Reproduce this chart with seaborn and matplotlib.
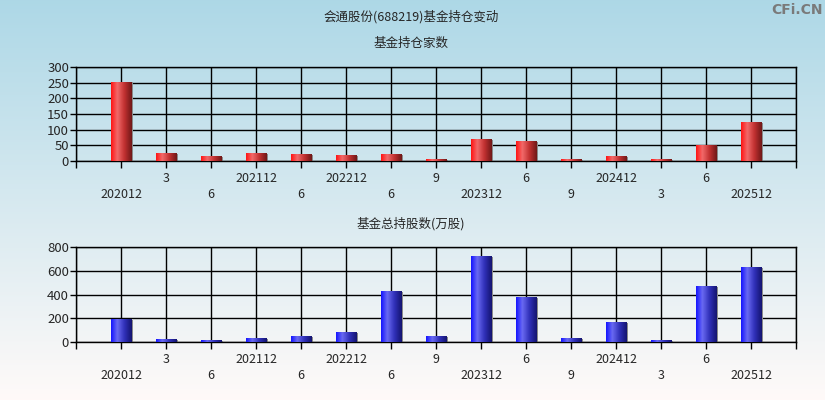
import numpy as np
import pandas as pd
import matplotlib
matplotlib.use("Agg")
import matplotlib.pyplot as plt
from matplotlib.colors import LinearSegmentedColormap
from matplotlib.patches import Rectangle
import seaborn as sns

# ---- data ----
periods = ["202012", "202103", "202106", "202112", "202206", "202212", "202306", "202309",
           "202312", "202406", "202409", "202412", "202503", "202506", "202512"]
tick_labels = ["202012", "3", "6", "202112", "6", "202212", "6", "9",
               "202312", "6", "9", "202412", "3", "6", "202512"]
fund_count = [252, 23, 14, 23, 20, 17, 20, 4, 68, 61, 4, 14, 4, 49, 122]
fund_shares = [188, 19, 11, 28, 45, 78, 424, 45, 718, 373, 28, 163, 11, 466, 626]

main_title = "会通股份(688219)基金持仓变动"
sub_title1 = "基金持仓家数"
sub_title2 = "基金总持股数(万股)"

sns.set_theme(style="white")
plt.rcParams['font.family'] = ['Noto Sans CJK SC', 'DejaVu Sans']
plt.rcParams['axes.unicode_minus'] = False

fig = plt.figure(figsize=(8.25, 4.0), dpi=100)

# background gradient
bg = fig.add_axes([0, 0, 1, 1], zorder=-10)
top_c = np.array([0.68, 0.847, 0.905])
bot_c = np.array([1.0, 0.98, 0.975])
t = np.linspace(0, 1, 256)[:, None]
grad = top_c[None, :] * (1 - t) + bot_c[None, :] * t
bg.imshow(grad[:, None, :].repeat(2, axis=1), aspect="auto", extent=[0, 1, 0, 1])
bg.set_axis_off()

red_cmap = LinearSegmentedColormap.from_list(
    "r", [(0, "#ff1414"), (0.3, "#f26a6a"), (0.65, "#c03030"), (1, "#701818")])
blue_cmap = LinearSegmentedColormap.from_list(
    "b", [(0, "#1414ff"), (0.3, "#6a6af2"), (0.65, "#3030b8"), (1, "#141470")])

df = pd.DataFrame({"period": periods, "count": fund_count, "shares": fund_shares})

def panel(rect, col, cmap, ylim, yticks, subtitle, sub_y):
    ax = fig.add_axes(rect)
    ax.set_facecolor("none")
    sns.barplot(data=df, x="period", y=col, order=periods, color="red",
                width=0.45, ax=ax, zorder=3)
    gx = np.linspace(0, 1, 64)[None, :]
    for p in list(ax.patches):
        x0, y0 = p.get_x(), p.get_y()
        w, h = p.get_width(), p.get_height()
        # shadow
        ax.add_patch(Rectangle((x0 + w, y0), 0.04, h, facecolor="#8a8a8a",
                               edgecolor="none", zorder=2.5))
        ax.imshow(gx, cmap=cmap, aspect="auto", extent=[x0, x0 + w, y0, y0 + h],
                  zorder=3.5, interpolation="bilinear")
        p.set_visible(False)
    ax.set_xlim(-1, len(periods))
    ax.set_ylim(*ylim)
    ax.set_yticks(yticks)
    ax.set_xticks(np.arange(-1, len(periods) + 1))
    labs = [""] + [("" if i % 2 else "\n") + s for i, s in enumerate(tick_labels)] + [""]
    ax.set_xticklabels(labs, fontsize=9, linespacing=1.25)
    ax.tick_params(axis="y", labelsize=9.5, length=4, width=1, color="black", pad=1)
    ax.tick_params(axis="x", length=5, width=1, color="black", pad=3)
    ax.tick_params(bottom=True, left=True)
    ax.grid(True, color="black", linewidth=1, zorder=1)
    ax.set_axisbelow(True)
    for s in ax.spines.values():
        s.set_color("black")
        s.set_linewidth(1)
    ax.set_xlabel("")
    ax.set_ylabel("")
    ax.margins(x=0)
    fig.text(411 / 825, sub_y, subtitle, ha="center", va="center", fontsize=9)
    return ax

panel([76 / 825, (400 - 161) / 400, 720 / 825, 94 / 400], "count", red_cmap,
      (0, 300), [0, 50, 100, 150, 200, 250, 300], sub_title1, 1 - 43 / 400)
panel([76 / 825, (400 - 342) / 400, 720 / 825, 95 / 400], "shares", blue_cmap,
      (0, 800), [0, 200, 400, 600, 800], sub_title2, 1 - 224 / 400)

fig.text(411 / 825, 1 - 17 / 400, main_title, ha="center", va="center", fontsize=9)
fig.text(0.997, 1 - 10 / 400, "CFi.CN", ha="right", va="center", fontsize=10,
         color="#7a7a7a", fontweight="bold", family=["DejaVu Sans"])

fig.savefig("out.png", dpi=100)
